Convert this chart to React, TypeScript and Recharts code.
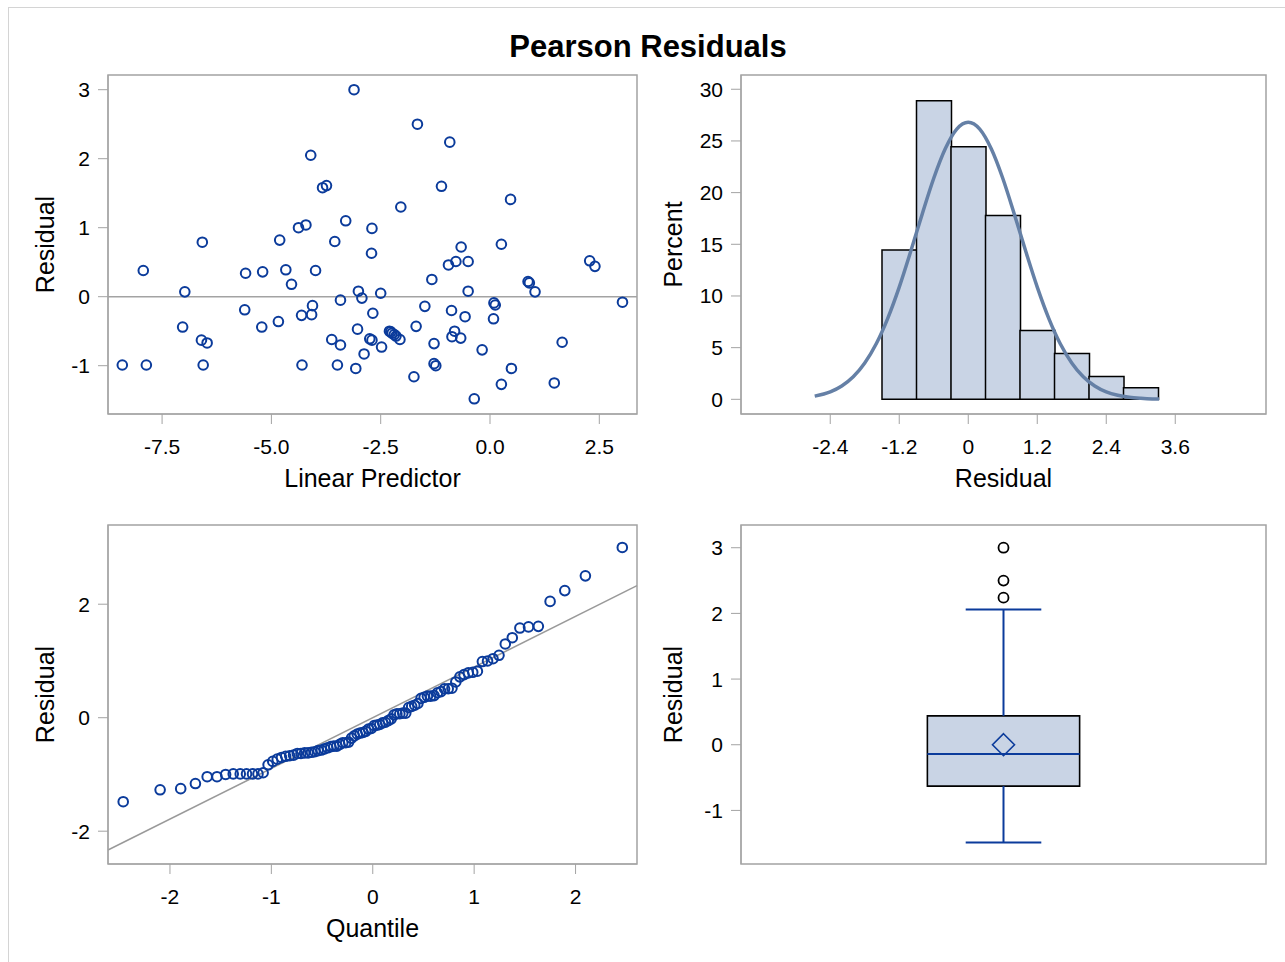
import React from 'react';
import {
  ScatterChart, Scatter, ComposedChart, Bar, Line, XAxis, YAxis,
  ReferenceArea, ReferenceLine,
} from 'recharts';

const FONT = '"Liberation Sans", Arial, Helvetica, sans-serif';
const MARKER = '#0b3b9b';
const FRAME = '#a3a3a3';
const FILL = '#c9d4e5';
const CURVE = '#6580a6';

// residual vs linear predictor (one entry per observation)
const linearPredictor = [
  -3.11, -4.10, -3.83, -3.74, -3.30, -4.38, -4.21, -4.81, -3.55, -6.58,
  -7.93, -5.59, -5.20, -4.67, -3.99, -4.54, -6.98, -3.01, -2.93, -3.42,
  -4.06, -4.08, -4.31, -5.61, -7.03, -5.22, -4.84, -6.60, -6.47, -3.03,
  -3.62, -3.42, -2.88, -8.41, -7.86, -6.56, -4.30, -3.49, -3.07, -2.70,
  -2.71, -1.66, -0.92, -1.11, -2.04, 0.47, -0.66, 0.26, -0.95, -0.78,
  -0.50, 2.28, 2.40, -1.33, 0.87, 0.90, 1.03, -0.50, -2.50, 3.03,
  0.09, 0.12, 0.08, -1.49, -2.68, -0.88, -0.57, -1.69, -2.30, -2.24,
  -2.15, -2.06, -2.75, -2.70, -2.48, -0.81, -0.87, -0.67, -1.28, -0.18,
  1.65, -1.28, -1.24, -1.74, 0.26, 0.49, 1.47, -0.36, -2.27, -2.19,
];
const pearsonResidual = [
  3.00, 2.05, 1.58, 1.61, 1.10, 1.00, 1.04, 0.82, 0.80, 0.79,
  0.38, 0.34, 0.36, 0.39, 0.38, 0.18, 0.07, 0.08, -0.02, -0.05,
  -0.13, -0.26, -0.27, -0.19, -0.44, -0.44, -0.36, -0.63, -0.67, -0.47,
  -0.62, -0.70, -0.83, -0.99, -0.99, -0.99, -0.99, -0.99, -1.04, 0.99,
  0.63, 2.50, 2.24, 1.60, 1.30, 1.41, 0.72, 0.76, 0.46, 0.51,
  0.51, 0.52, 0.44, 0.25, 0.22, 0.20, 0.07, 0.08, 0.05, -0.08,
  -0.09, -0.12, -0.32, -0.14, -0.24, -0.20, -0.29, -0.43, -0.50, -0.53,
  -0.57, -0.62, -0.61, -0.63, -0.73, -0.50, -0.58, -0.60, -0.68, -0.77,
  -0.66, -0.97, -1.00, -1.16, -1.27, -1.04, -1.25, -1.48, -0.51, -0.55,
];

// histogram of residuals
const binMidpoints = [-1.2, -0.6, 0, 0.6, 1.2, 1.8, 2.4, 3.0];
const binPercent = [14.44, 28.89, 24.44, 17.78, 6.67, 4.44, 2.22, 1.11];
const normalCurveX = [
  -2.67, -2.4, -2.2, -2.0, -1.8, -1.6, -1.4, -1.2, -1.0, -0.8, -0.6, -0.4, -0.2, 0,
  0.2, 0.4, 0.6, 0.8, 1.0, 1.2, 1.4, 1.6, 1.8, 2.0, 2.2, 2.4, 2.6, 2.8, 3.0, 3.2, 3.32,
];
const normalCurvePct = [
  0.31, 0.72, 1.29, 2.18, 3.52, 5.38, 7.84, 10.86, 14.32, 17.94, 21.39, 24.24, 26.14, 26.8,
  26.14, 24.24, 21.39, 17.94, 14.32, 10.86, 7.84, 5.38, 3.52, 2.18, 1.29, 0.72, 0.39, 0.2, 0.1, 0.04, 0.03,
];

// normal quantiles for the Q-Q plot (ordered)
const normalQuantile = [
  -2.461, -2.097, -1.894, -1.749, -1.633, -1.536, -1.451, -1.376, -1.307, -1.245,
  -1.186, -1.132, -1.081, -1.032, -0.986, -0.942, -0.900, -0.859, -0.819, -0.781,
  -0.744, -0.708, -0.672, -0.638, -0.604, -0.571, -0.539, -0.507, -0.476, -0.445,
  -0.414, -0.384, -0.354, -0.325, -0.296, -0.267, -0.238, -0.210, -0.182, -0.153,
  -0.125, -0.097, -0.069, -0.042, -0.014, 0.014, 0.042, 0.069, 0.097, 0.125,
  0.153, 0.182, 0.210, 0.238, 0.267, 0.296, 0.325, 0.354, 0.384, 0.414,
  0.445, 0.476, 0.507, 0.539, 0.571, 0.604, 0.638, 0.672, 0.708, 0.744,
  0.781, 0.819, 0.859, 0.900, 0.942, 0.986, 1.032, 1.081, 1.132, 1.186,
  1.245, 1.307, 1.376, 1.451, 1.536, 1.633, 1.749, 1.894, 2.097, 2.461,
];
const qqLineIntercept = 0;
const qqLineSlope = 0.893;

// box plot summary
const boxWhiskerLow = -1.49;
const boxQ1 = -0.63;
const boxMedian = -0.14;
const boxMean = 0.0;
const boxQ3 = 0.44;
const boxWhiskerHigh = 2.06;
const boxOutliers = [2.24, 2.5, 3.0];

const scatterData = linearPredictor.map((x, i) => ({ x, y: pearsonResidual[i] }));
const histData = binMidpoints.map((mid, i) => ({ mid, pct: binPercent[i] }));
const curveData = normalCurveX.map((x, i) => ({ x, pct: normalCurvePct[i] }));
const sortedResidual = [...pearsonResidual].sort((a, b) => a - b);
const qqData = normalQuantile.map((q, i) => ({ q, r: sortedResidual[i] }));

const tickStyle = { fill: '#000', fontSize: 21, fontFamily: FONT };
const labelStyle = { fill: '#000', fontSize: 25, fontFamily: FONT, textAnchor: 'middle' as const };

const OpenCircle = (p: any) => (
  <circle cx={p.cx} cy={p.cy} r={4.8} fill="none" stroke={MARKER} strokeWidth={2} />
);
const BlackCircle = (p: any) => (
  <circle cx={p.cx} cy={p.cy} r={5} fill="none" stroke="#000" strokeWidth={1.8} />
);
const Diamond = (p: any) => (
  <polygon
    points={`${p.cx},${p.cy - 11} ${p.cx + 11},${p.cy} ${p.cx},${p.cy + 11} ${p.cx - 11},${p.cy}`}
    fill="none" stroke={MARKER} strokeWidth={1.6}
  />
);

const xLp: [number, number] = [-8.737, 3.362];
const yLp: [number, number] = [-1.70, 3.213];
const xHist: [number, number] = [-3.952, 5.178];
const yHist: [number, number] = [-1.42, 31.38];
const xQQ: [number, number] = [-2.611, 2.606];
const yQQ: [number, number] = [-2.578, 3.396];
const yBox: [number, number] = [-1.816, 3.346];
const boxHalf = 0.145;
const capHalf = 0.072;

export default function App() {
  return (
    <div style={{ position: 'absolute', left: 0, top: 0, width: 1285, height: 962, overflow: 'hidden', background: '#fff' }}>
      <div style={{ position: 'absolute', left: 8, top: 7, width: 1300, height: 1000, border: '1px solid #d4d4d4' }} />
      <div style={{ position: 'absolute', left: 0, top: 31, width: 1296, textAlign: 'center', fontFamily: FONT, fontWeight: 'bold', fontSize: 31, lineHeight: 1, color: '#000' }}>
        Pearson Residuals
      </div>

      <div style={{ position: 'absolute', left: 0, top: 0 }}>
        <ScatterChart width={660} height={500} margin={{ top: 75, right: 23, bottom: 0, left: 30 }}>
          <XAxis type="number" dataKey="x" domain={xLp} allowDataOverflow ticks={[-7.5, -5, -2.5, 0, 2.5]}
            tickFormatter={(v: number) => v.toFixed(1)} height={86} tickSize={10} tickMargin={15}
            stroke={FRAME} tick={tickStyle}
            label={{ value: 'Linear Predictor', position: 'insideTop', offset: 55, style: labelStyle }} />
          <YAxis type="number" dataKey="y" domain={yLp} allowDataOverflow ticks={[-1, 0, 1, 2, 3]}
            width={78} tickSize={10} tickMargin={8} stroke={FRAME} tick={tickStyle}
            label={{ value: 'Residual', angle: -90, position: 'insideLeft', offset: 15, style: labelStyle }} />
          <ReferenceArea x1={xLp[0]} x2={xLp[1]} y1={yLp[0]} y2={yLp[1]} fill="none" stroke={FRAME} strokeWidth={1.5} ifOverflow="visible" />
          <ReferenceLine y={0} stroke={FRAME} strokeWidth={1.5} />
          <Scatter data={scatterData} shape={OpenCircle} isAnimationActive={false} />
        </ScatterChart>
      </div>

      <div style={{ position: 'absolute', left: 660, top: 0 }}>
        <ComposedChart width={625} height={500} data={histData} margin={{ top: 75, right: 19, bottom: 0, left: 0 }}
          barCategoryGap={0} barGap={0}>
          <XAxis type="number" dataKey="mid" domain={xHist} allowDataOverflow ticks={[-2.4, -1.2, 0, 1.2, 2.4, 3.6]}
            tickFormatter={(v: number) => (v === 0 ? '0' : v.toFixed(1))} height={86} tickSize={10} tickMargin={15}
            stroke={FRAME} tick={tickStyle}
            label={{ value: 'Residual', position: 'insideTop', offset: 55, style: labelStyle }} />
          <XAxis xAxisId="curve" type="number" dataKey="x" domain={xHist} allowDataOverflow hide />
          <YAxis type="number" domain={yHist} allowDataOverflow ticks={[0, 5, 10, 15, 20, 25, 30]}
            width={81} tickSize={10} tickMargin={8} stroke={FRAME} tick={tickStyle}
            label={{ value: 'Percent', angle: -90, position: 'insideLeft', offset: 13, style: labelStyle }} />
          <ReferenceArea x1={xHist[0]} x2={xHist[1]} y1={yHist[0]} y2={yHist[1]} fill="none" stroke={FRAME} strokeWidth={1.5} ifOverflow="visible" />
          <Bar dataKey="pct" fill={FILL} stroke="#000" strokeWidth={1.5} isAnimationActive={false} />
          <Line xAxisId="curve" data={curveData} dataKey="pct" type="monotone" stroke={CURVE} strokeWidth={3.5}
            dot={false} isAnimationActive={false} />
        </ComposedChart>
      </div>

      <div style={{ position: 'absolute', left: 0, top: 450 }}>
        <ScatterChart width={660} height={512} margin={{ top: 75, right: 23, bottom: 0, left: 30 }}>
          <XAxis type="number" dataKey="q" domain={xQQ} allowDataOverflow ticks={[-2, -1, 0, 1, 2]}
            height={98} tickSize={10} tickMargin={15} stroke={FRAME} tick={tickStyle}
            label={{ value: 'Quantile', position: 'insideTop', offset: 55, style: labelStyle }} />
          <YAxis type="number" dataKey="r" domain={yQQ} allowDataOverflow ticks={[-2, 0, 2]}
            width={78} tickSize={10} tickMargin={8} stroke={FRAME} tick={tickStyle}
            label={{ value: 'Residual', angle: -90, position: 'insideLeft', offset: 15, style: labelStyle }} />
          <ReferenceArea x1={xQQ[0]} x2={xQQ[1]} y1={yQQ[0]} y2={yQQ[1]} fill="none" stroke={FRAME} strokeWidth={1.5} ifOverflow="visible" />
          <ReferenceLine
            segment={[
              { x: xQQ[0], y: qqLineIntercept + qqLineSlope * xQQ[0] },
              { x: xQQ[1], y: qqLineIntercept + qqLineSlope * xQQ[1] },
            ]}
            stroke="#9a9a9a" strokeWidth={1.5} ifOverflow="visible" />
          <Scatter data={qqData} shape={OpenCircle} isAnimationActive={false} />
        </ScatterChart>
      </div>

      <div style={{ position: 'absolute', left: 660, top: 450 }}>
        <ScatterChart width={625} height={512} margin={{ top: 75, right: 19, bottom: 98, left: 0 }}>
          <XAxis type="number" dataKey="x" domain={[0, 1]} allowDataOverflow hide />
          <YAxis type="number" dataKey="y" domain={yBox} allowDataOverflow ticks={[-1, 0, 1, 2, 3]}
            width={81} tickSize={10} tickMargin={8} stroke={FRAME} tick={tickStyle}
            label={{ value: 'Residual', angle: -90, position: 'insideLeft', offset: 13, style: labelStyle }} />
          <ReferenceArea x1={0} x2={1} y1={yBox[0]} y2={yBox[1]} fill="none" stroke={FRAME} strokeWidth={1.5} ifOverflow="visible" />
          <ReferenceLine segment={[{ x: 0.5, y: boxQ3 }, { x: 0.5, y: boxWhiskerHigh }]} stroke={MARKER} strokeWidth={2} />
          <ReferenceLine segment={[{ x: 0.5, y: boxWhiskerLow }, { x: 0.5, y: boxQ1 }]} stroke={MARKER} strokeWidth={2} />
          <ReferenceLine segment={[{ x: 0.5 - capHalf, y: boxWhiskerHigh }, { x: 0.5 + capHalf, y: boxWhiskerHigh }]} stroke={MARKER} strokeWidth={2} />
          <ReferenceLine segment={[{ x: 0.5 - capHalf, y: boxWhiskerLow }, { x: 0.5 + capHalf, y: boxWhiskerLow }]} stroke={MARKER} strokeWidth={2} />
          <ReferenceArea x1={0.5 - boxHalf} x2={0.5 + boxHalf} y1={boxQ1} y2={boxQ3} fill={FILL} fillOpacity={1} stroke="#000" strokeWidth={1.6} />
          <ReferenceLine segment={[{ x: 0.5 - boxHalf, y: boxMedian }, { x: 0.5 + boxHalf, y: boxMedian }]} stroke={MARKER} strokeWidth={2} />
          <Scatter data={[{ x: 0.5, y: boxMean }]} shape={Diamond} isAnimationActive={false} />
          <Scatter data={boxOutliers.map((y) => ({ x: 0.5, y }))} shape={BlackCircle} isAnimationActive={false} />
        </ScatterChart>
      </div>
    </div>
  );
}
